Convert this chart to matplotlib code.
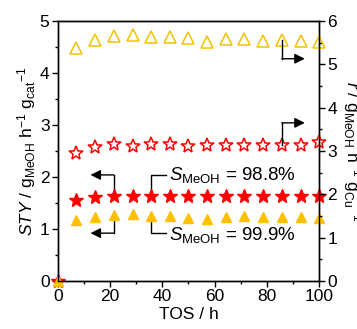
#=======================#
# Libraries importation #
#=======================#

import matplotlib
matplotlib.use("Agg")
import matplotlib.pyplot as plt

#==================#
# Global variables #
#==================#

plt.rcParams['font.family'] = ['Liberation Sans', 'DejaVu Sans']
plt.rcParams['mathtext.fontset'] = 'custom'
plt.rcParams['mathtext.rm'] = 'Liberation Sans'
plt.rcParams['mathtext.it'] = 'Liberation Sans:italic'
plt.rcParams['font.size'] = 12

RED = "#ff0000"
YELLOW = "#ffc000"
OPEN_YELLOW = "#f2c200"

# time on stream (h)
tos = [0, 7.1, 14.3, 21.4, 28.6, 35.7, 42.9, 50.0, 57.1, 64.3, 71.4, 78.6, 85.7, 92.9, 100.0]

# STY, left axis (filled markers)
sty_star = [0, 1.56, 1.62, 1.64, 1.63, 1.64, 1.64, 1.63, 1.64, 1.64, 1.64, 1.64, 1.64, 1.64, 1.64]
sty_tri = [0, 1.18, 1.23, 1.27, 1.28, 1.25, 1.25, 1.22, 1.20, 1.24, 1.25, 1.24, 1.24, 1.24, 1.22]

# r, right axis (open markers)
tos_r = tos[1:]
r_star = [2.95, 3.10, 3.16, 3.12, 3.16, 3.16, 3.12, 3.14, 3.14, 3.14, 3.15, 3.15, 3.15, 3.20]
r_tri = [5.38, 5.57, 5.66, 5.68, 5.63, 5.63, 5.61, 5.52, 5.59, 5.59, 5.54, 5.57, 5.54, 5.52]

sel_labels = [r"$S_{\rm MeOH}$ = 98.8%", r"$S_{\rm MeOH}$ = 99.9%"]

#==========#
# Plotting #
#==========#

fig = plt.figure(figsize=(3.57, 3.29), dpi=100)
ax = fig.add_axes([0.162, 0.146, 0.732, 0.79])
ax2 = ax.twinx()

ax.plot(tos, sty_star, '*', ms=10, color=RED, mec=RED, clip_on=False, zorder=3)
ax.plot(tos, sty_tri, '^', ms=7.5, color=YELLOW, mec=YELLOW, clip_on=False, zorder=4)
ax2.plot(tos_r, r_star, '*', ms=10, mfc='none', mec=RED, mew=1.1, clip_on=False)
ax2.plot(tos_r, r_tri, '^', ms=8, mfc='none', mec=OPEN_YELLOW, mew=1.1, clip_on=False)

ax.set_xlim(0, 100)
ax.set_ylim(0, 5)
ax2.set_ylim(0, 6)

ax.set_xticks([0, 20, 40, 60, 80, 100])
ax.set_xticks(range(10, 100, 20), minor=True)
ax.set_yticks(range(0, 6))
ax.set_yticks([0.5, 1.5, 2.5, 3.5, 4.5], minor=True)
ax2.set_yticks(range(0, 7))
ax2.set_yticks([0.5, 1.5, 2.5, 3.5, 4.5, 5.5], minor=True)

for a in (ax, ax2):
    a.tick_params(which='major', length=4, width=1, pad=2, labelsize=12.5)
    a.tick_params(which='minor', length=2.5, width=1)
    for s in a.spines.values():
        s.set_linewidth(1)

ax.set_xlabel("TOS / h", labelpad=2, fontsize=12.5)
ax.set_ylabel(r"$STY$ / g$_{\rm MeOH}$ h$^{-1}$ g$_{\rm cat}$$^{-1}$", labelpad=1, fontsize=12.5)
ax2.set_ylabel(r"$r$ / g$_{\rm MeOH}$ h$^{-1}$ g$_{\rm Cu}$$^{-1}$", rotation=270, va='bottom',
               labelpad=3, fontsize=12.5)

# arrows pointing to the axes
arrow = dict(arrowstyle='-|>', color='k', lw=1, mutation_scale=15, shrinkA=0, shrinkB=0)
x0 = tos[3]
ax.plot([x0, x0], [sty_star[3], 2.04], color='k', lw=1)
ax.annotate('', xy=(12.5, 2.04), xytext=(x0, 2.04), arrowprops=arrow)
ax.plot([x0, x0], [sty_tri[3], 0.92], color='k', lw=1)
ax.annotate('', xy=(12.5, 0.92), xytext=(x0, 0.92), arrowprops=arrow)

x1 = tos_r[11]
ax2.plot([x1, x1], [r_tri[11], 5.13], color='k', lw=1)
ax2.annotate('', xy=(94.5, 5.13), xytext=(x1, 5.13), arrowprops=arrow)
ax2.plot([x1, x1], [r_star[11], 3.65], color='k', lw=1)
ax2.annotate('', xy=(94.5, 3.65), xytext=(x1, 3.65), arrowprops=arrow)

# selectivity labels
x2 = tos[5]
ax.plot([x2, x2, 41.5], [sty_star[5], 2.04, 2.04], color='k', lw=1)
ax.text(42.5, 2.04, sel_labels[0], va='center', ha='left', fontsize=13.5)
ax.plot([x2, x2, 41.5], [sty_tri[5], 0.92, 0.92], color='k', lw=1)
ax.text(42.5, 0.88, sel_labels[1], va='center', ha='left', fontsize=13.5)

fig.savefig("out.png", dpi=100)
